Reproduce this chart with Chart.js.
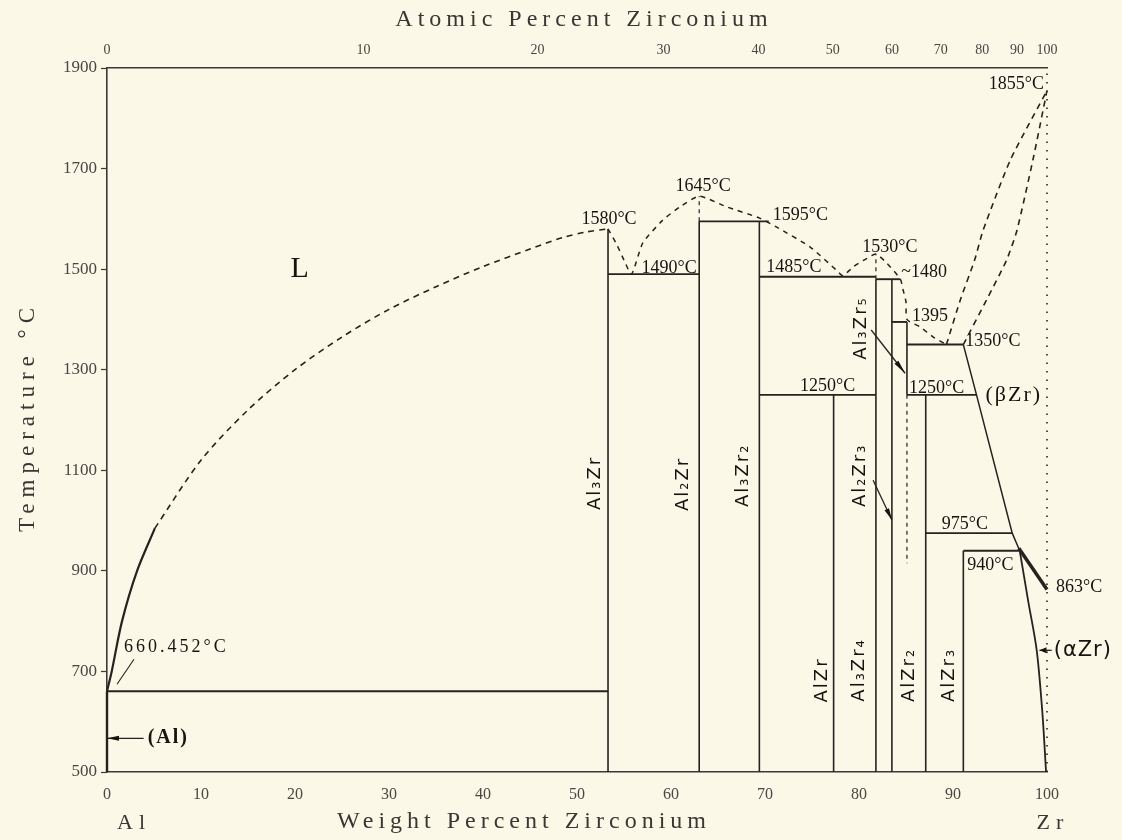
<!DOCTYPE html>
<html>
<head>
<meta charset="utf-8">
<script src="https://cdn.jsdelivr.net/npm/chart.js@4/dist/chart.umd.min.js"></script>
<style>
  html, body { margin: 0; padding: 0; background: #fbf8e7; }
  #wrap { width: 1122px; height: 840px; position: relative; }
</style>
</head>
<body>
<div id="wrap"><canvas id="c" width="1122" height="840"></canvas></div>
<script>
// Al–Zr phase diagram: temperature (°C) against weight percent zirconium,
// with the atomic-percent scale along the top edge.

// ---- axis ticks ----
const weightTicks = [0, 10, 20, 30, 40, 50, 60, 70, 80, 90, 100];
const tempTicks = [500, 700, 900, 1100, 1300, 1500, 1700, 1900];
const atomicLabels = [0, 10, 20, 30, 40, 50, 60, 70, 80, 90, 100];
const atomicAtWeight = [0, 27.3, 45.8, 59.2, 69.3, 77.2, 83.5, 88.7, 93.1, 96.8, 100];

// ---- intermetallic compounds: composition (wt% Zr) and solid line span (°C) ----
const compoundNames = ['Al₃Zr', 'Al₂Zr', 'Al₃Zr₂', 'AlZr', 'Al₃Zr₄', 'Al₂Zr₃', 'Al₃Zr₅', 'AlZr₂', 'AlZr₃'];
const compoundWt = [53.3, 63.0, 69.4, 77.3, 81.8, 83.5, 85.1, 87.1, 91.1];
const compoundTop = [1580, 1595, 1595, 1250, 1480, 1480, 1395, 1250, 940];
const compoundBottom = [500, 500, 500, 500, 500, 500, 1250, 500, 500];
// dashed continuations of compound lines [wt, from °C, to °C]
const compoundDashed = [[63.0, 1595, 1645], [81.8, 1480, 1530], [85.1, 1250, 915]];

// ---- invariant isotherms ----
const isoT = [660.452, 1490, 1595, 1485, 1480, 1395, 1350, 1250, 1250, 975, 940];
const isoFrom = [0, 53.3, 63.0, 69.4, 81.8, 83.5, 85.1, 69.4, 85.1, 87.1, 91.1];
const isoTo = [53.3, 63.0, 70.4, 81.8, 84.4, 85.1, 91.1, 81.8, 92.5, 96.3, 97.1];

// ---- liquidus / solidus / solvus curves [wt% Zr, °C] ----
const liquidusAlSolid = [[0, 660.452], [0.5, 700], [1.6, 800], [3.2, 900], [5.1, 985]];
const liquidusAlDashed = [[5.1, 985], [10, 1120], [15, 1220], [20, 1300], [25, 1365], [30, 1420],
  [35, 1465], [40, 1505], [45, 1540], [48.5, 1563], [51, 1574], [53.3, 1580]];
const liquidusMid = [[53.3, 1580], [54.2, 1550], [55.0, 1518], [55.8, 1490], [57.0, 1552], [59.1, 1597],
  [60.9, 1623], [63.0, 1645], [65.9, 1624], [69.5, 1601], [71.2, 1584], [74.8, 1544], [77.6, 1498],
  [78.3, 1487], [79.4, 1505], [80.8, 1521], [81.8, 1530], [83.0, 1511], [84.4, 1480], [84.7, 1458],
  [85.0, 1435], [85.1, 1400], [86.5, 1385], [87.9, 1365], [89.3, 1350]];
const liquidusZr = [[89.3, 1350], [90.8, 1440], [92.3, 1518], [93.2, 1577], [96.1, 1717], [100, 1855]];
const solidusZr = [[91.1, 1350], [93.6, 1440], [95.7, 1518], [96.8, 1577], [98.5, 1717], [100, 1855]];
const betaZrBoundary = [[91.1, 1350], [92.5, 1250], [96.3, 975], [97.1, 940]];
const alphaZrBoundary = [[97.1, 940], [98.0, 840], [98.9, 743], [99.5, 620], [99.9, 500]];
const alphaBetaBand = [[97.0, 945], [100, 863]];
const alSolvus = [[0, 660.452], [0, 500]];
const zrEdge = [[100, 500], [100, 1900]];

const INK = '#27221f';

function line(points, width, dash, tension) {
  return {
    data: points.map(p => ({ x: p[0], y: p[1] })),
    showLine: true, pointRadius: 0, pointHoverRadius: 0,
    borderColor: INK, backgroundColor: INK,
    borderWidth: width, borderDash: dash || [], tension: tension || 0,
    fill: false, clip: false
  };
}

const datasets = [];
datasets.push(line(liquidusAlSolid, 2.2, [], 0.3));
datasets.push(line(liquidusAlDashed, 1.6, [6, 5], 0.3));
datasets.push(line(liquidusMid, 1.5, [5, 5], 0.2));
datasets.push(line(liquidusZr, 1.6, [6, 5], 0.2));
datasets.push(line(solidusZr, 1.6, [6, 5], 0.2));
datasets.push(line(betaZrBoundary, 1.5));
datasets.push(line(alphaZrBoundary, 1.8, [], 0.3));
datasets.push(line(alphaBetaBand, 3.5));
datasets.push(line(alSolvus, 2.4));
datasets.push(line(zrEdge, 1.6, [1.5, 7]));
compoundWt.forEach((w, i) => {
  datasets.push(line([[w, compoundBottom[i]], [w, compoundTop[i]]], 1.6));
});
compoundDashed.forEach(d => {
  datasets.push(line([[d[0], d[1]], [d[0], d[2]]], 1.2, [4, 4]));
});
isoT.forEach((t, i) => {
  datasets.push(line([[isoFrom[i], t], [isoTo[i], t]], 1.9));
});

// ---- text placed at diagram points, offset in pixels ----
const deg = t => t + '°C';
const valueNotes = [
  { text: deg(1580), x: 53.3, y: 1580, dx: 1, dy: -10, align: 'center' },
  { text: deg(1645), x: 63.0, y: 1645, dx: 4, dy: -10, align: 'center' },
  { text: deg(1595), x: 70.4, y: 1595, dx: 4, dy: -6, align: 'left' },
  { text: deg(1490), x: 55.8, y: 1490, dx: 10, dy: -6, align: 'left' },
  { text: deg(1485), x: 69.4, y: 1485, dx: 7, dy: -9, align: 'left' },
  { text: deg(1530), x: 81.8, y: 1530, dx: 14, dy: -7, align: 'center' },
  { text: '~1480', x: 84.4, y: 1480, dx: 1, dy: -7, align: 'left' },
  { text: '1395', x: 85.1, y: 1395, dx: 5, dy: -6, align: 'left' },
  { text: deg(1350), x: 91.1, y: 1350, dx: 2, dy: -3, align: 'left' },
  { text: deg(1250), x: 77.3, y: 1250, dx: -6, dy: -9, align: 'center' },
  { text: deg(1250), x: 85.1, y: 1250, dx: 2, dy: -7, align: 'left' },
  { text: deg(975), x: 87.1, y: 975, dx: 16, dy: -9, align: 'left' },
  { text: deg(940), x: 91.1, y: 940, dx: 4, dy: 15, align: 'left' },
  { text: deg(863), x: 100, y: 863, dx: 9, dy: -2, align: 'left' },
  { text: deg(1855), x: 100, y: 1855, dx: -3, dy: -6, align: 'right' },
  { text: deg(660.452), x: 0, y: 660.452, dx: 17, dy: -44, align: 'left', spacing: 3 }
];
const phaseNotes = [
  { text: 'L', x: 20.5, y: 1500, size: 30 },
  { text: '(βZr)', x: 92.5, y: 1250, dx: 9, dy: 0, align: 'left', size: 22, spacing: 2 },
];
const compoundLabelWt = [51.9, 61.3, 67.7, 76.1, 80.0, 80.1, 80.3, 85.4, 89.6];
const compoundLabelT = [1075, 1073, 1090, 683, 703, 1090, 1383, 693, 693];

const notesPlugin = {
  id: 'notes',
  afterDatasetsDraw(chart) {
    const { ctx } = chart;
    const xs = chart.scales.x, ys = chart.scales.y;
    const px = v => xs.getPixelForValue(v), py = v => ys.getPixelForValue(v);
    ctx.save();
    ctx.fillStyle = '#161311';
    ctx.strokeStyle = INK;
    ctx.textBaseline = 'middle';

    // temperature values
    ctx.font = '18px "Liberation Serif"';
    valueNotes.forEach(n => {
      ctx.textAlign = n.align;
      ctx.letterSpacing = (n.spacing || 0) + 'px';
      ctx.fillText(n.text, px(n.x) + n.dx, py(n.y) + n.dy);
    });
    ctx.letterSpacing = '0px';

    // phase fields
    phaseNotes.forEach(n => {
      ctx.font = n.size + 'px "Liberation Serif"';
      ctx.textAlign = n.align || 'center';
      ctx.letterSpacing = (n.spacing || 0) + 'px';
      ctx.fillText(n.text, px(n.x) + (n.dx || 0), py(n.y) + (n.dy || 0));
    });

    // compound names, reading upward
    ctx.font = '18px "DejaVu Sans"';
    ctx.letterSpacing = '2px';
    compoundNames.forEach((name, i) => {
      ctx.save();
      ctx.translate(px(compoundLabelWt[i]), py(compoundLabelT[i]));
      ctx.rotate(-Math.PI / 2);
      ctx.textAlign = 'center';
      ctx.fillText(name, 0, 0);
      ctx.restore();
    });
    ctx.letterSpacing = '0px';

    // pointer lines with filled heads
    function pointer(x0, y0, x1, y1, head, w) {
      const a = Math.atan2(y1 - y0, x1 - x0);
      ctx.lineWidth = 1.3;
      ctx.beginPath(); ctx.moveTo(x0, y0); ctx.lineTo(x1, y1); ctx.stroke();
      ctx.beginPath();
      ctx.moveTo(x1, y1);
      ctx.lineTo(x1 - head * Math.cos(a) + w * Math.sin(a), y1 - head * Math.sin(a) - w * Math.cos(a));
      ctx.lineTo(x1 - head * Math.cos(a) - w * Math.sin(a), y1 - head * Math.sin(a) + w * Math.cos(a));
      ctx.closePath(); ctx.fill();
    }
    pointer(px(81.3), py(1379), px(84.9), py(1293), 14, 2.5);
    pointer(px(81.5), py(1080), px(83.5), py(1001), 12, 2.5);
    pointer(px(3.9), py(567), px(0), py(567), 12, 2.5);
    pointer(px(100.5), py(742), px(99.2), py(742), 7, 3);

    // leader for the aluminium melting point
    ctx.lineWidth = 1.1;
    ctx.beginPath();
    ctx.moveTo(px(0) + 27, py(660.452) - 32);
    ctx.lineTo(px(0) + 10, py(660.452) - 7);
    ctx.stroke();

    ctx.font = 'bold 20px "Liberation Serif"';
    ctx.textAlign = 'left';
    ctx.letterSpacing = '2px';
    ctx.fillText('(Al)', px(3.9) + 4, py(567));
    ctx.font = '21px "DejaVu Sans"';
    ctx.letterSpacing = '1px';
    ctx.fillText('(αZr)', px(100.5) + 2, py(742));
    ctx.letterSpacing = '0px';

    // axis titles
    ctx.fillStyle = '#3a3633';
    ctx.font = '24px "Liberation Serif"';
    ctx.letterSpacing = '5px';
    ctx.textAlign = 'center';
    ctx.fillText('Atomic Percent Zirconium', 584, 20);
    ctx.fillText('Weight Percent Zirconium', 524, 822);
    ctx.font = '22px "Liberation Serif"';
    ctx.letterSpacing = '6px';
    ctx.fillText('Al', 134, 823);
    ctx.fillText('Zr', 1053, 823);
    ctx.save();
    ctx.translate(28, 417);
    ctx.rotate(-Math.PI / 2);
    ctx.font = '23px "Liberation Serif"';
    ctx.letterSpacing = '6px';
    ctx.fillText('Temperature °C', 0, 0);
    ctx.restore();
    ctx.letterSpacing = '0px';
    ctx.restore();
  }
};

const tickColor = '#4a4643';
new Chart(document.getElementById('c'), {
  type: 'scatter',
  data: { datasets },
  options: {
    responsive: false,
    animation: false,
    devicePixelRatio: 1,
    layout: { padding: { left: 0, right: 75, top: 0, bottom: 0 } },
    plugins: { legend: { display: false }, tooltip: { enabled: false } },
    scales: {
      x: {
        type: 'linear', position: 'bottom', min: 0, max: 100,
        afterBuildTicks: s => { s.ticks = weightTicks.map(v => ({ value: v })); },
        afterFit: s => { s.height = 68; },
        ticks: { color: tickColor, font: { family: 'Liberation Serif', size: 16 }, padding: 13, maxRotation: 0, autoSkip: false,
          callback: v => String(v) },
        grid: { drawOnChartArea: false, drawTicks: false },
        border: { color: '#3d3936', width: 1.4, dash: [6, 1] }
      },
      xTop: {
        type: 'linear', position: 'top', min: 0, max: 100, display: true,
        afterBuildTicks: s => { s.ticks = atomicAtWeight.map(v => ({ value: v })); },
        afterFit: s => { s.height = 68; },
        ticks: {
          color: tickColor, font: { family: 'Liberation Serif', size: 14 }, padding: 9,
          maxRotation: 0, autoSkip: false,
          callback: (v, i) => String(atomicLabels[i])
        },
        grid: { drawOnChartArea: false, drawTicks: false },
        border: { color: '#3d3936', width: 1.4, dash: [12, 3] }
      },
      y: {
        type: 'linear', position: 'left', min: 500, max: 1900,
        afterBuildTicks: s => { s.ticks = tempTicks.map(v => ({ value: v })); },
        afterFit: s => { s.width = 107; },
        ticks: { color: tickColor, font: { family: 'Liberation Serif', size: 17 }, padding: 4,
          callback: v => String(v) },
        grid: { drawOnChartArea: false, drawTicks: true, tickLength: 6, color: '#3d3936', tickWidth: 1.2 },
        border: { color: '#3d3936', width: 1.6, dash: [1.5, 5] }
      }
    }
  },
  plugins: [notesPlugin]
});
</script>
</body>
</html>
